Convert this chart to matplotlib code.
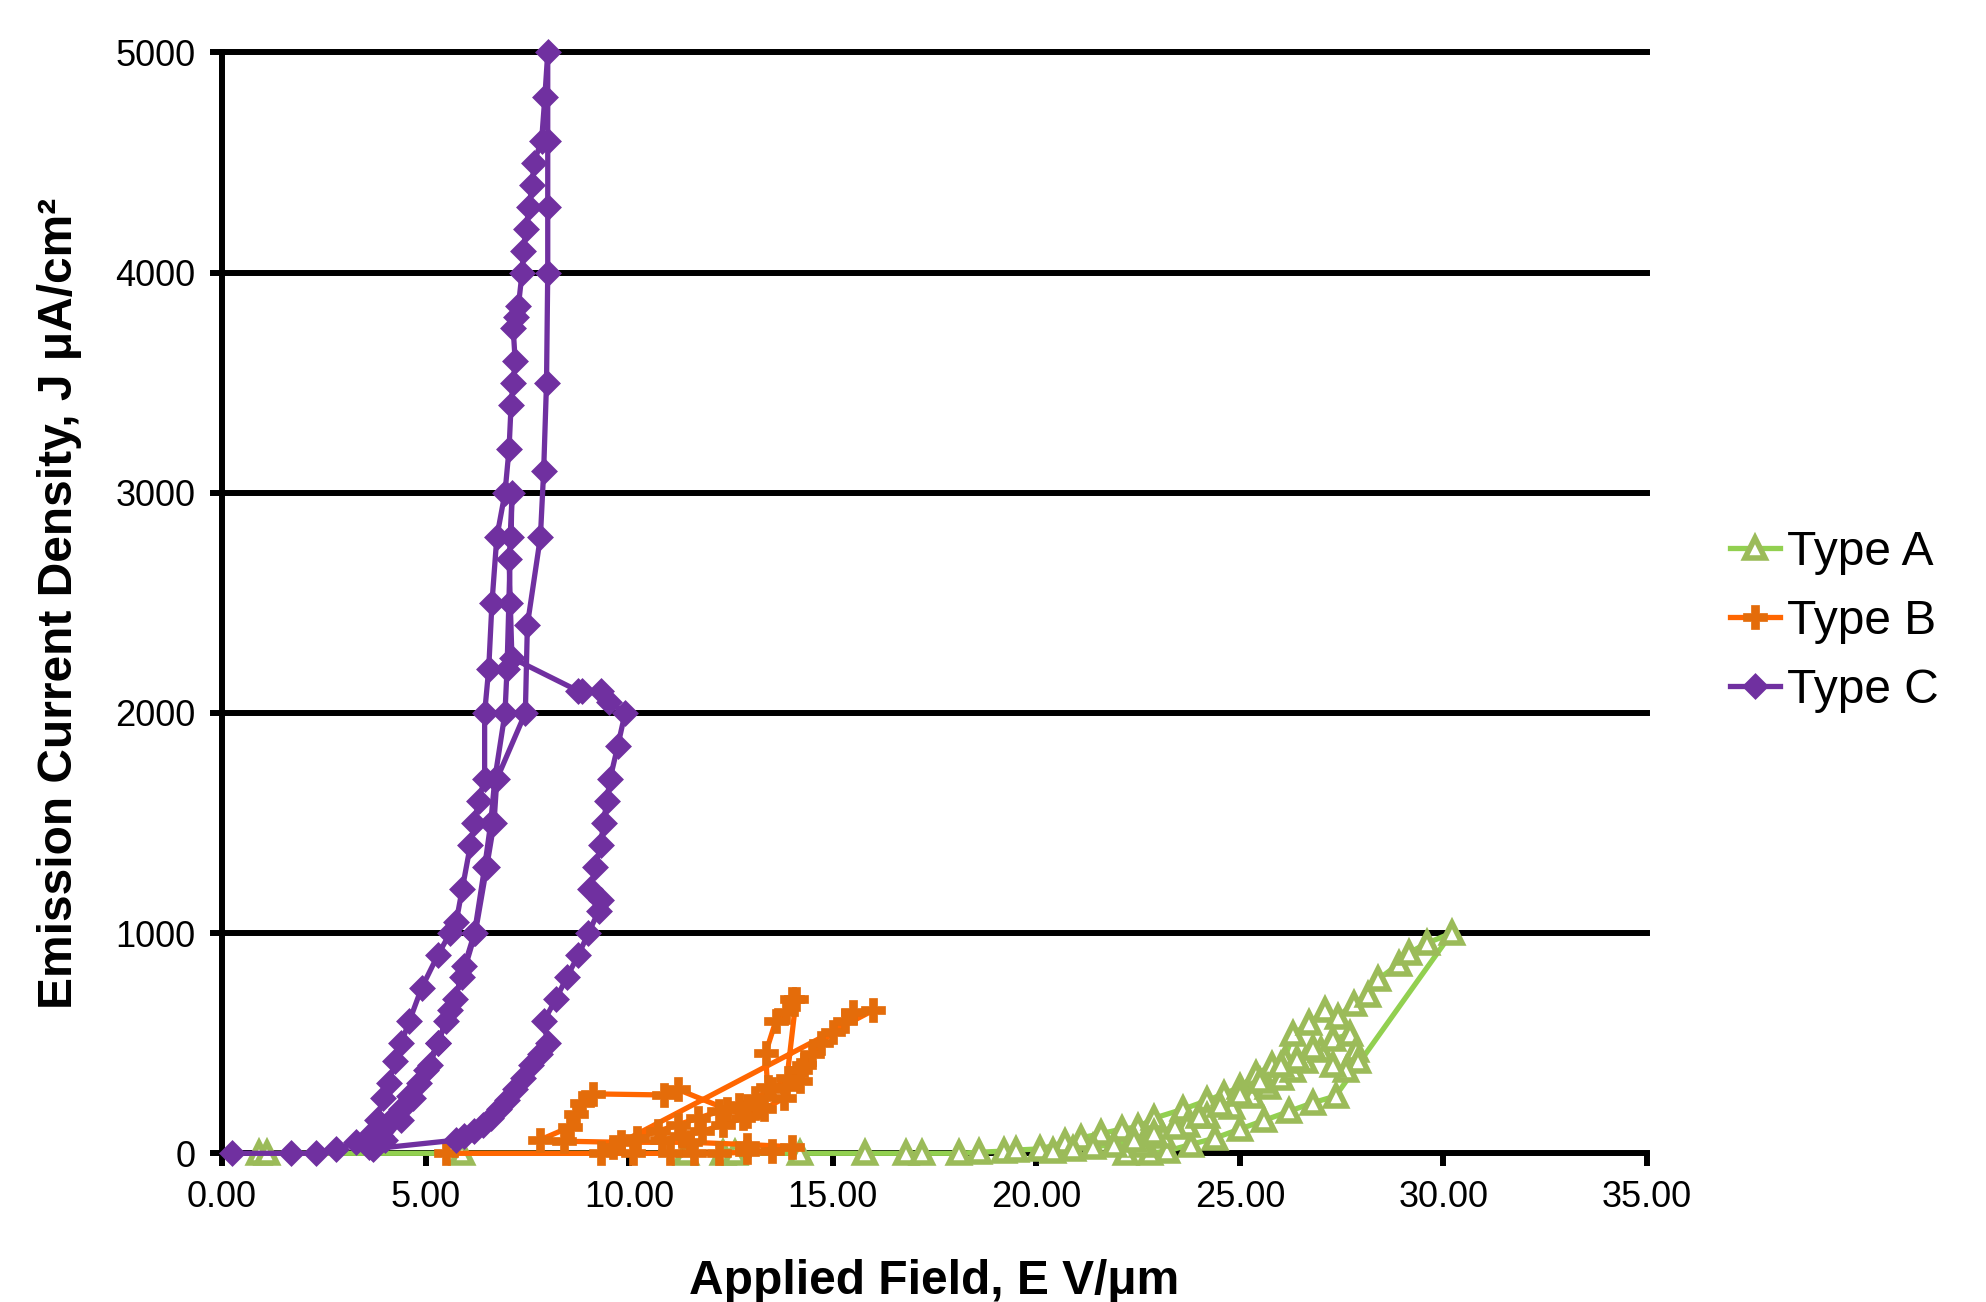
import matplotlib
matplotlib.use("Agg")
import matplotlib.pyplot as plt

plt.rcParams['font.family'] = ['Liberation Sans', 'DejaVu Sans']

# ---------------- data ----------------
typeA_x = [0.9, 1.1, 5.9, 11.4, 12.3, 12.6, 14.2, 15.8, 16.8, 17.2, 18.1, 18.6, 19.2, 19.5,
           20.1, 20.7, 21.1, 21.6, 22.1, 22.5, 22.9, 23.6, 24.2, 24.6, 25.0, 25.4, 25.8, 26.1,
           26.3, 26.7, 27.1, 27.4, 27.8, 28.15, 28.4, 28.9, 29.15, 29.6, 30.2,
           27.35, 26.8, 26.2, 25.6, 25.0, 24.4, 23.8, 23.2, 22.8, 22.2,
           22.6, 23.1, 23.7, 24.2, 24.8, 25.3, 25.7, 26.0, 26.3, 26.6, 27.0, 27.3, 27.7,
           27.85, 27.9, 27.6, 27.3, 26.8, 26.4, 26.0, 25.5, 25.0, 24.5, 24.0, 23.4, 22.9,
           22.4, 21.9, 21.4, 20.9, 20.4]
typeA_y = [0, 0, 0, 0, 0, 0, 0, 0, 0, 0, 0, 5, 10, 15,
           20, 50, 70, 90, 110, 120, 160, 200, 240, 270, 300, 360, 400, 430,
           540, 590, 650, 620, 680, 720, 790, 860, 910, 955, 1000,
           260, 230, 190, 150, 110, 70, 40, 10, 0, 0,
           40, 80, 130, 170, 210, 260, 300, 340, 380, 420, 470, 520, 540,
           470, 420, 380, 400, 480, 430, 400, 330, 270, 220, 170, 120, 90,
           60, 40, 30, 20, 10]

typeB_x = [5.5, 9.3, 10.1, 11.0, 11.6, 12.2, 12.9, 13.5, 14.0,
           12.9, 11.5, 9.8, 8.4, 7.8,
           8.55, 8.7, 8.85, 9.1, 10.85, 11.2, 12.4, 12.9, 13.2, 13.4, 13.35, 13.6, 13.85,
           14.0, 14.1, 13.85, 14.2, 14.3, 14.5, 14.7, 15.0, 15.3, 15.5, 16.0,
           9.6, 10.2, 10.7, 11.2, 11.7, 12.2, 12.7, 13.1, 13.5, 13.9, 14.2, 13.8, 13.3,
           12.8, 12.3, 11.8, 11.3, 10.8]
typeB_y = [0, 0, 0, 0, 0, 0, 5, 10, 30,
           40, 50, 50, 55, 60,
           120, 180, 230, 270, 265, 290, 200, 170, 210, 300, 455, 600, 640,
           700, 700, 300, 330, 400, 450, 500, 550, 600, 640, 650,
           30, 70, 100, 130, 160, 190, 220, 250, 290, 340, 380, 250, 200,
           160, 130, 100, 80, 60]

typeC_x = [0.25, 1.7, 2.3, 2.8, 3.3, 3.6, 3.8, 3.95, 4.1, 4.25, 4.4, 4.6, 4.9, 5.3, 5.6,
           5.75, 5.9, 6.1, 6.2, 6.3, 6.45, 6.45, 6.55, 6.63, 6.75, 6.95, 7.05, 7.1, 7.15,
           7.2, 7.15, 7.22, 7.28, 7.37, 7.4, 7.47, 7.54, 7.62, 7.66, 7.85, 7.93, 8.0,
           8.0, 8.0, 8.0, 7.97, 7.9, 7.82, 7.5, 7.45,
           6.75, 6.68, 6.5, 6.22, 5.9, 5.6, 5.3, 5.0, 4.7, 4.4, 4.0, 3.7,
           5.75, 5.95, 6.2, 6.4, 6.6, 6.8, 7.0, 7.2, 7.4, 7.6, 7.8, 8.0, 7.9, 8.2, 8.47,
           8.75, 9.0, 9.25, 9.3, 9.05, 9.17, 9.3, 9.37, 9.45, 9.53, 9.72, 9.9,
           9.5, 9.3, 8.85, 8.75, 7.12, 7.08, 7.05, 7.1, 7.12, 7.0, 6.95, 6.7, 6.6, 6.45,
           6.2, 5.95, 5.72, 5.5, 5.3, 5.1, 4.85, 4.6, 4.4, 4.15, 3.9, 3.6]
typeC_y = [0, 0, 0, 20, 50, 80, 150, 250, 320, 420, 500, 600, 750, 900, 1000,
           1050, 1200, 1400, 1500, 1600, 1700, 2000, 2200, 2500, 2800, 3000, 3200, 3400, 3500,
           3600, 3750, 3800, 3850, 4000, 4100, 4200, 4300, 4400, 4500, 4600, 4800, 5000,
           4600, 4300, 4000, 3500, 3100, 2800, 2400, 2000,
           1700, 1500, 1300, 1000, 800, 650, 500, 380, 250, 150, 60, 20,
           60, 80, 100, 130, 160, 200, 240, 290, 340, 400, 450, 500, 600, 700, 800,
           900, 1000, 1100, 1150, 1200, 1300, 1400, 1500, 1600, 1700, 1850, 2000,
           2050, 2100, 2100, 2100, 2250, 2500, 2700, 2800, 3000, 2200, 2000, 1700, 1500, 1300,
           1000, 850, 700, 600, 500, 400, 320, 260, 200, 150, 80, 30]

x_ticks = [0, 5, 10, 15, 20, 25, 30, 35]
x_ticklabels = ['0.00', '5.00', '10.00', '15.00', '20.00', '25.00', '30.00', '35.00']
y_ticks = [0, 1000, 2000, 3000, 4000, 5000]
y_ticklabels = ['0', '1000', '2000', '3000', '4000', '5000']
series_labels = ['Type A', 'Type B', 'Type C']

# ---------------- figure ----------------
fig = plt.figure(figsize=(19.86, 13.02), dpi=100)
ax = fig.add_axes([0.1118, 0.1142, 0.7175, 0.8455])

ax.set_xlim(0, 35)
ax.set_ylim(0, 5000)

for yv in y_ticks[1:]:
    ax.axhline(yv, color='black', lw=4.3, zorder=1, clip_on=False)

lA, = ax.plot(typeA_x, typeA_y, color='#92D050', lw=3.8, marker='^', markersize=15,
              markerfacecolor='white', markeredgecolor='#9BBB59', markeredgewidth=4,
              zorder=3, label=series_labels[0], clip_on=False)
lB, = ax.plot(typeB_x, typeB_y, color='#FF6600', lw=3.8, marker='P', markersize=17,
              markerfacecolor='#E46C0A', markeredgecolor='#E46C0A', markeredgewidth=0.5,
              zorder=4, label=series_labels[1], clip_on=False)
lC, = ax.plot(typeC_x, typeC_y, color='#7030A0', lw=3.8, marker='D', markersize=11.5,
              markerfacecolor='#7030A0', markeredgecolor='#7030A0', markeredgewidth=2.5,
              zorder=5, label=series_labels[2], clip_on=False)

for s in ['top', 'right']:
    ax.spines[s].set_visible(False)
for s in ['left', 'bottom']:
    ax.spines[s].set_linewidth(4.3)
    ax.spines[s].set_color('black')

ax.set_xticks(x_ticks)
ax.set_xticklabels(x_ticklabels)
ax.set_yticks(y_ticks)
ax.set_yticklabels(y_ticklabels)
ax.tick_params(axis='both', direction='out', length=9, width=4.3, labelsize=26, pad=10)

ax.set_xlabel('Applied Field, E V/\u03bcm', fontsize=34.5, fontweight='bold', labelpad=32)
ax.set_ylabel('Emission Current Density, J \u03bcA/cm\u00b2', fontsize=34.5, fontweight='bold',
              labelpad=24)

fig.legend(handles=[lA, lB, lC], labels=series_labels, loc='center left',
           bbox_to_anchor=(0.859, 0.523), frameon=False, fontsize=34.5,
           handlelength=1.05, handletextpad=0.15, labelspacing=0.5, borderpad=0)

fig.savefig('out.png', dpi=100)
